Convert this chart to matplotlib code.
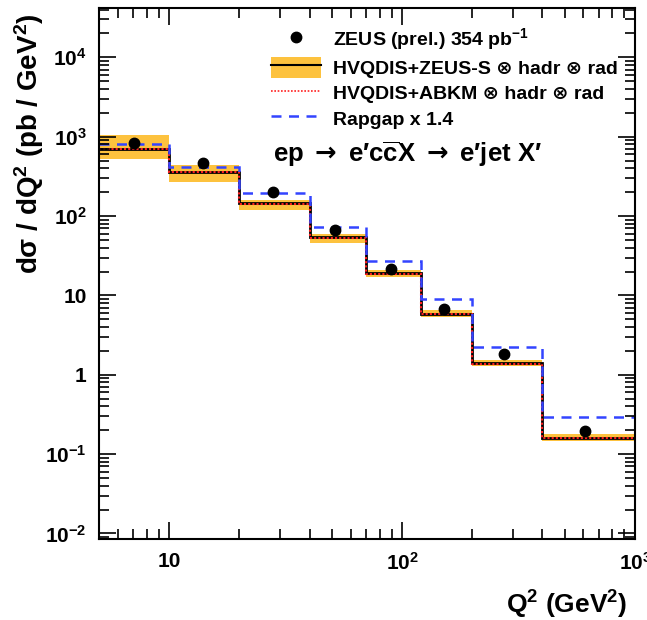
import matplotlib
matplotlib.use("Agg")
import matplotlib.pyplot as plt
from matplotlib.lines import Line2D
from matplotlib.patches import Patch
from matplotlib.ticker import LogLocator, NullFormatter

plt.rcParams['font.family'] = ['Liberation Sans', 'DejaVu Sans']
plt.rcParams['font.weight'] = 'bold'
plt.rcParams['axes.labelweight'] = 'bold'
plt.rcParams['mathtext.fontset'] = 'custom'
plt.rcParams['mathtext.rm'] = 'Liberation Sans:bold'
plt.rcParams['mathtext.bf'] = 'Liberation Sans:bold'
plt.rcParams['mathtext.it'] = 'Liberation Sans:bold:italic'
plt.rcParams['mathtext.sf'] = 'DejaVu Sans:bold'

# Q^2 bins (GeV^2)
q2_edges = [5, 10, 20, 40, 70, 120, 200, 400, 1000]

# ZEUS data
zeus_q2 = [7.05, 14.0, 27.9, 51.6, 89.5, 150.7, 274.8, 612]
zeus_xsec = [840, 469, 202, 66.4, 21.8, 6.7, 1.80, 0.194]
zeus_err = [25, 14, 6, 2.5, 0.9, 0.3, 0.1, 0.03]

# predictions per bin
hvqdis_zeus = [705, 361, 144, 54.7, 19.0, 5.9, 1.41, 0.161]
hvqdis_up = [1047, 439, 158, 60.0, 21.0, 6.5, 1.55, 0.178]
hvqdis_down = [521, 270, 119, 46.0, 17.0, 5.3, 1.27, 0.146]
hvqdis_abkm = [690, 354, 141, 53.6, 18.6, 5.8, 1.38, 0.158]
rapgap = [807, 417, 193, 73.0, 27.0, 8.96, 2.24, 0.294]

ytick_vals = [1e-2, 1e-1, 1, 10, 1e2, 1e3, 1e4]
ytick_labels = ['10$^{-2}$', '10$^{-1}$', '1', '10', '10$^2$', '10$^3$', '10$^4$']
xtick_vals = [10, 100, 1000]
xtick_labels = ['10', '10$^2$', '10$^3$']

orange = '#fdc23e'
blue = '#3344ff'
red = '#ff2020'

fig = plt.figure(figsize=(6.47, 6.2), dpi=100)
ax = fig.add_axes([0.1535, 0.1306, 0.828, 0.856])

ax.stairs(hvqdis_up, q2_edges, baseline=hvqdis_down, fill=True,
          color=orange, linewidth=0)
ax.stairs(hvqdis_zeus, q2_edges, baseline=None, color='black', linewidth=2)
ax.stairs(hvqdis_abkm, q2_edges, baseline=None, color=red,
          linewidth=1.5, linestyle=(0, (1, 1)))
ax.stairs(rapgap, q2_edges, baseline=None, color=blue,
          linewidth=1.8, linestyle=(0, (4, 3)))
ax.errorbar(zeus_q2, zeus_xsec, yerr=zeus_err, fmt='o', color='black',
            markersize=7.5, elinewidth=1.2, capsize=0, zorder=5)

ax.set_xscale('log')
ax.set_yscale('log')
ax.set_xlim(5, 1000)
ax.set_ylim(8.5e-3, 4.15e4)

ax.set_yticks(ytick_vals, ytick_labels)
ax.set_xticks(xtick_vals, xtick_labels)
ax.yaxis.set_minor_locator(LogLocator(base=10, subs=range(2, 10), numticks=20))
ax.xaxis.set_minor_locator(LogLocator(base=10, subs=range(2, 10), numticks=20))
ax.yaxis.set_minor_formatter(NullFormatter())
ax.xaxis.set_minor_formatter(NullFormatter())
ax.tick_params(which='both', direction='in', top=True, right=True, width=1.2)
ax.tick_params(which='major', length=12, labelsize=15)
ax.tick_params(which='minor', length=7)
ax.tick_params(axis='y', pad=9)
ax.tick_params(axis='x', pad=9)
for sp in ax.spines.values():
    sp.set_linewidth(1.5)

ax.set_ylabel('dσ / dQ$^2$ (pb / GeV$^2$)', fontsize=20)
ax.yaxis.set_label_coords(-0.1, 0.745)
ax.set_xlabel('Q$^2$ (GeV$^2$)', fontsize=19, loc='right')
ax.xaxis.set_label_coords(0.985, -0.094)

handles = [
    Line2D([], [], marker='o', color='black', linestyle='none', markersize=7.5),
    (Patch(facecolor=orange, edgecolor='none'), Line2D([], [], color='black', linewidth=1.5)),
    Line2D([], [], color=red, linewidth=1.2, linestyle=(0, (1, 1))),
    Line2D([], [], color=blue, linewidth=1.8, linestyle=(0, (4, 3))),
]
labels = [
    'ZEUS (prel.) 354 pb$^{-1}$',
    'HVQDIS+ZEUS-S ⊗ hadr ⊗ rad',
    'HVQDIS+ABKM ⊗ hadr ⊗ rad',
    'Rapgap x 1.4',
]
ax.legend(handles, labels, loc='upper left', bbox_to_anchor=(0.287, 0.999),
          frameon=False, fontsize=14, handlelength=2.6, handleheight=1.3,
          labelspacing=0.22, handletextpad=0.6)

ax.text(0.325, 0.725,
        "ep $\\mathsf{\\rightarrow}$ e′c$\\overline{\\mathrm{c}}$X "
        "$\\mathsf{\\rightarrow}$ e′jet X′",
        transform=ax.transAxes, fontsize=18.5, va='center', ha='left')

fig.savefig('out.png', dpi=100)
